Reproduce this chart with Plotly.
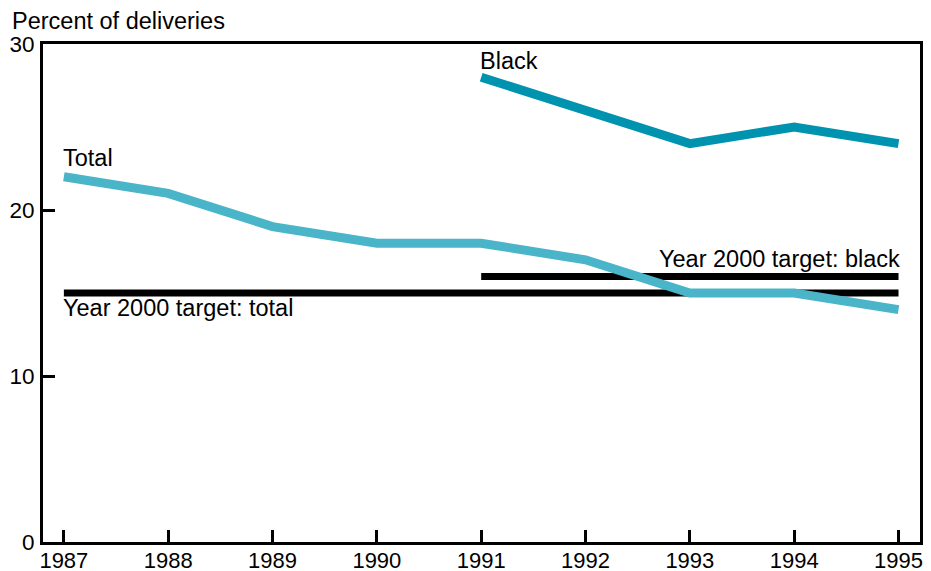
import plotly.graph_objects as go

# Data
years = [1987, 1988, 1989, 1990, 1991, 1992, 1993, 1994, 1995]
total = [22, 21, 19, 18, 18, 17, 15, 15, 14]

black_years = [1991, 1992, 1993, 1994, 1995]
black = [28, 26, 24, 25, 24]

target_total_years = [1987, 1995]
target_total = [15, 15]
target_black_years = [1991, 1995]
target_black = [16, 16]

FONT = "Arial, Liberation Sans, sans-serif"
FS = 23.5

fig = go.Figure()

# target lines first so the data lines sit on top
fig.add_trace(go.Scatter(x=target_total_years, y=target_total, mode="lines",
                         line=dict(color="black", width=7), hoverinfo="skip"))
fig.add_trace(go.Scatter(x=target_black_years, y=target_black, mode="lines",
                         line=dict(color="black", width=7), hoverinfo="skip"))
fig.add_trace(go.Scatter(x=years, y=total, mode="lines",
                         line=dict(color="#4AB5C9", width=9)))
fig.add_trace(go.Scatter(x=black_years, y=black, mode="lines",
                         line=dict(color="#0093B0", width=9)))

# -------------------------------
# Direct labels
# -------------------------------
labels = [
    ("Total", 1987, 23.15, "left"),
    ("Black", 1991, 28.95, "left"),
    ("Year 2000 target: total", 1987, 14.1, "left"),
    ("Year 2000 target: black", 1995, 17.05, "right"),
]
for text, x, y, anchor in labels:
    fig.add_annotation(x=x, y=y, text=text, showarrow=False,
                       xanchor=anchor, yanchor="middle", xshift=-3 if anchor == "left" else 3,
                       font=dict(size=FS, color="black", family=FONT))

fig.add_annotation(x=0, xref="paper", xanchor="left", xshift=-33,
                   y=1, yref="paper", yanchor="bottom", yshift=8,
                   text="Percent of deliveries", showarrow=False,
                   font=dict(size=FS, color="black", family=FONT))

# the page adds an 8px body margin, so the figure is a bit smaller than the window
fig.update_layout(
    width=923, height=563,
    margin=dict(l=35, r=11, t=36, b=29),
    paper_bgcolor="white", plot_bgcolor="white",
    showlegend=False,
    font=dict(family=FONT, size=22, color="black"),
)
fig.update_xaxes(
    range=[1986.8, 1995.206], tickvals=years, ticktext=[str(y) for y in years],
    showgrid=False, zeroline=False, automargin=False,
    showline=True, linecolor="black", linewidth=3, mirror=True,
    ticks="inside", ticklen=12, tickwidth=3, tickcolor="black",
    tickfont=dict(size=22), ticklabelstandoff=-3,
)
fig.update_yaxes(
    range=[0, 30], tickvals=[0, 10, 20, 30],
    showgrid=False, zeroline=False, automargin=False,
    showline=True, linecolor="black", linewidth=3, mirror=True,
    ticks="inside", ticklen=12, tickwidth=3, tickcolor="black",
    tickfont=dict(size=22.5), ticklabelstandoff=1,
)

fig.write_html("out.html")
